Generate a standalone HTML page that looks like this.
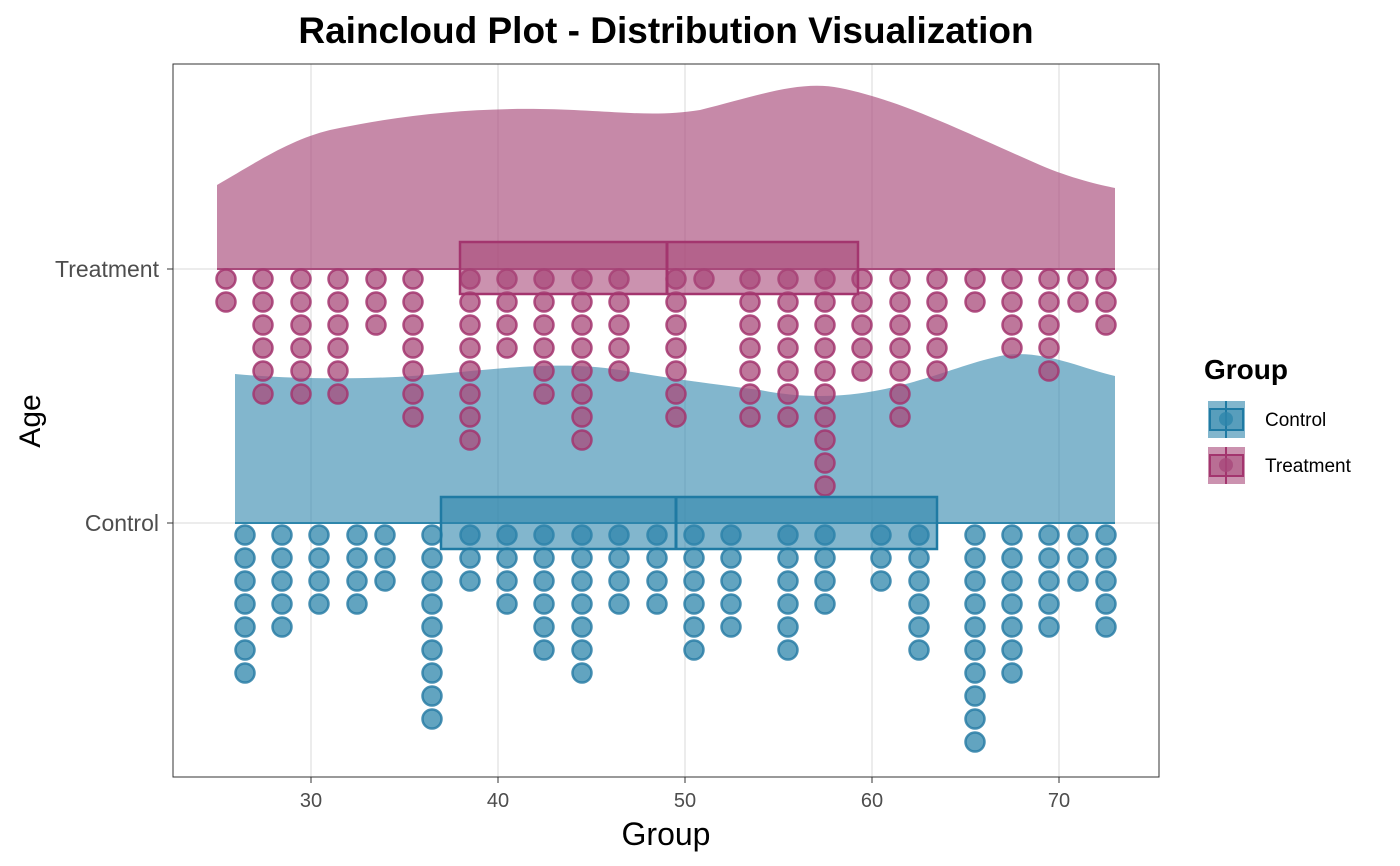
<!DOCTYPE html>
<html><head><meta charset="utf-8"><style>
body{margin:0;background:#fff}
svg{display:block;font-family:"Liberation Sans",sans-serif}
</style></head><body>
<svg id="s" width="1400" height="866" xmlns="http://www.w3.org/2000/svg">
<rect width="1400" height="866" fill="#fff"/>
<g stroke="#e6e6e6" stroke-width="1.5">
<line x1="311" y1="64" x2="311" y2="777"/><line x1="498" y1="64" x2="498" y2="777"/>
<line x1="685" y1="64" x2="685" y2="777"/><line x1="872" y1="64" x2="872" y2="777"/>
<line x1="1059" y1="64" x2="1059" y2="777"/>
<line x1="173" y1="269" x2="1159" y2="269"/><line x1="173" y1="523" x2="1159" y2="523"/>
</g>
<path d="M217,269 L217,185 C260,160 290,140 330,130 C400,115 470,108 540,109 C610,110 650,118 700,110 C760,95 800,80 840,88 C900,100 960,130 1040,165 C1070,178 1100,185 1115,188 L1115,269 Z" fill="#a8497a" fill-opacity="0.65"/>
<path d="M235,523 L235,374 C300,380 380,380 450,373 C520,366 570,362 620,370 C680,380 720,385 760,390 C800,398 840,398 880,390 C930,380 960,365 1000,356 C1040,348 1080,368 1115,376 L1115,523 Z" fill="#2e86ab" fill-opacity="0.6"/>
<line x1="217" y1="269" x2="1115" y2="269" stroke="#a8497a" stroke-width="2"/>
<line x1="235" y1="523" x2="1115" y2="523" stroke="#2e86ab" stroke-width="2"/>
<g id="dots"></g>
<rect x="460" y="242" width="398" height="52" fill="#a8497a" fill-opacity="0.6" stroke="#a3356e" stroke-width="2.5"/>
<line x1="667" y1="242" x2="667" y2="294" stroke="#a3356e" stroke-width="3"/>
<rect x="441" y="497" width="496" height="52" fill="#2e86ab" fill-opacity="0.6" stroke="#1f7aa3" stroke-width="2.5"/>
<line x1="676" y1="497" x2="676" y2="549" stroke="#1f7aa3" stroke-width="3"/>
<rect x="173" y="64" width="986" height="713" fill="none" stroke="#333" stroke-width="1"/>
<g font-size="23" fill="#4d4d4d" text-anchor="end">
<text x="159" y="277">Treatment</text><text x="159" y="531">Control</text></g>
<g stroke="#333"><line x1="167" y1="269" x2="173" y2="269"/><line x1="167" y1="523" x2="173" y2="523"/>
<line x1="311" y1="777" x2="311" y2="783"/><line x1="498" y1="777" x2="498" y2="783"/><line x1="685" y1="777" x2="685" y2="783"/><line x1="872" y1="777" x2="872" y2="783"/><line x1="1059" y1="777" x2="1059" y2="783"/></g>
<g font-size="20" fill="#4d4d4d" text-anchor="middle">
<text x="311" y="807">30</text><text x="498" y="807">40</text><text x="685" y="807">50</text><text x="872" y="807">60</text><text x="1059" y="807">70</text></g>
<text x="666" y="845" font-size="32" text-anchor="middle">Group</text>
<text transform="translate(40,421) rotate(-90)" font-size="30" text-anchor="middle">Age</text>
<text x="666" y="43" font-size="37" font-weight="bold" text-anchor="middle">Raincloud Plot - Distribution Visualization</text>
<text x="1204" y="379" font-size="28" font-weight="bold">Group</text>
<g>
<rect x="1208" y="401" width="37" height="37" fill="#2e86ab" fill-opacity="0.6"/>
<rect x="1210" y="409" width="33" height="21" fill="#2e86ab" fill-opacity="0.5" stroke="#1f7aa3" stroke-width="2"/>
<line x1="1226" y1="401" x2="1226" y2="438" stroke="#1f7aa3" stroke-width="2"/>
<circle cx="1226" cy="419" r="7" fill="#2e86ab" fill-opacity="0.8"/>
<rect x="1208" y="447" width="37" height="37" fill="#a8497a" fill-opacity="0.6"/>
<rect x="1210" y="455" width="33" height="21" fill="#a8497a" fill-opacity="0.5" stroke="#a3356e" stroke-width="2"/>
<line x1="1226" y1="447" x2="1226" y2="484" stroke="#a3356e" stroke-width="2"/>
<circle cx="1226" cy="465" r="7" fill="#a8497a" fill-opacity="0.8"/>
</g>
<g font-size="19" fill="#000"><text x="1265" y="426">Control</text><text x="1265" y="472">Treatment</text></g>
</svg>
<script>
var g=document.getElementById('dots'),ns="http://www.w3.org/2000/svg";
var T=[[226,2],[263,6],[301,6],[338,6],[376,3],[413,7],[470,8],[507,4],[544,6],[582,8],[619,5],[676,7],[704,1],[750,7],[788,7],[825,10],[862,5],[900,7],[937,5],[975,2],[1012,4],[1049,5],[1078,2],[1106,3]];
var C=[[245,7],[282,5],[319,4],[357,4],[385,3],[432,9],[470,3],[507,4],[544,6],[582,7],[619,4],[657,4],[694,6],[731,5],[788,6],[825,4],[881,3],[919,6],[975,10],[1012,7],[1049,5],[1078,3],[1106,5]];
function add(arr,y0,fill,st){arr.forEach(function(c){for(var i=0;i<c[1];i++){var e=document.createElementNS(ns,'circle');e.setAttribute('cx',c[0]);e.setAttribute('cy',y0+i*23);e.setAttribute('r',9.5);e.setAttribute('fill',fill);e.setAttribute('fill-opacity','0.75');e.setAttribute('stroke',st);e.setAttribute('stroke-width','2.5');e.setAttribute('stroke-opacity','0.85');g.appendChild(e);}});}
add(T,279,'#a8497a','#a3356e');add(C,535,'#2e86ab','#2a7ea6');
</script>
</body></html>
